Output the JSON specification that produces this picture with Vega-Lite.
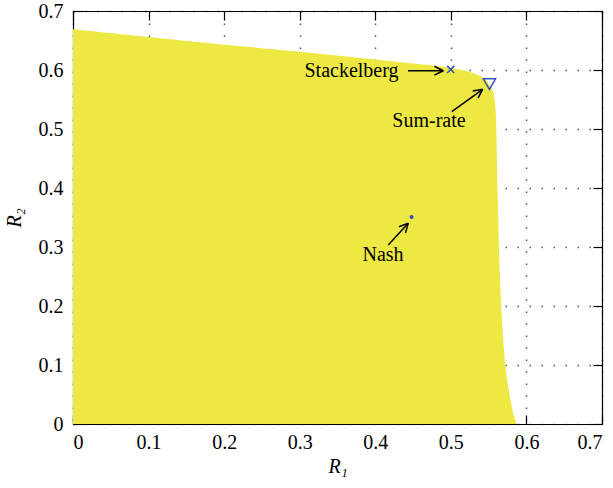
{
  "$schema": "https://vega.github.io/schema/vega-lite/v6.json",
  "width": 529,
  "height": 413,
  "autosize": "none",
  "padding": {"left": 73, "top": 11, "right": 11, "bottom": 64},
  "background": "white",
  "datasets": {
    "boundary": [
      {"r1": 0, "r2": 0.669},
      {"r1": 0.1, "r2": 0.656},
      {"r1": 0.2, "r2": 0.643},
      {"r1": 0.3, "r2": 0.631},
      {"r1": 0.4, "r2": 0.618},
      {"r1": 0.45, "r2": 0.611},
      {"r1": 0.48, "r2": 0.607},
      {"r1": 0.5, "r2": 0.6035},
      {"r1": 0.515, "r2": 0.6},
      {"r1": 0.53, "r2": 0.595},
      {"r1": 0.54, "r2": 0.589},
      {"r1": 0.548, "r2": 0.581},
      {"r1": 0.553, "r2": 0.572},
      {"r1": 0.5565, "r2": 0.561},
      {"r1": 0.5585, "r2": 0.545},
      {"r1": 0.5598, "r2": 0.52},
      {"r1": 0.5605, "r2": 0.48},
      {"r1": 0.561, "r2": 0.44},
      {"r1": 0.5625, "r2": 0.36},
      {"r1": 0.564, "r2": 0.28},
      {"r1": 0.5665, "r2": 0.2},
      {"r1": 0.5695, "r2": 0.14},
      {"r1": 0.572, "r2": 0.1},
      {"r1": 0.575, "r2": 0.07},
      {"r1": 0.579, "r2": 0.04},
      {"r1": 0.583, "r2": 0.015},
      {"r1": 0.587, "r2": 0}
    ],
    "arrows": [
      {"x": 0.4433, "y": 0.5988, "x2": 0.49, "y2": 0.5988},
      {"x": 0.4781, "y": 0.6064, "x2": 0.49, "y2": 0.5988},
      {"x": 0.4781, "y": 0.5912, "x2": 0.49, "y2": 0.5988},
      {"x": 0.5012, "y": 0.5293, "x2": 0.5421, "y2": 0.5673},
      {"x": 0.5359, "y": 0.5522, "x2": 0.5421, "y2": 0.5673},
      {"x": 0.529, "y": 0.5646, "x2": 0.5421, "y2": 0.5673},
      {"x": 0.4172, "y": 0.3034, "x2": 0.4436, "y2": 0.3402},
      {"x": 0.44, "y": 0.3239, "x2": 0.4436, "y2": 0.3402},
      {"x": 0.4313, "y": 0.3342, "x2": 0.4436, "y2": 0.3402}
    ],
    "points": [
      {"name": "Stackelberg", "r1": 0.4998, "r2": 0.601},
      {"name": "Sum-rate", "r1": 0.551, "r2": 0.576},
      {"name": "Nash", "r1": 0.448, "r2": 0.351}
    ],
    "labels": [
      {"text": "Stackelberg", "x": 0.3685, "y": 0.598},
      {"text": "Sum-rate", "x": 0.4711, "y": 0.5136},
      {"text": "Nash", "x": 0.4102, "y": 0.2864}
    ]
  },
  "layer": [
    {
      "data": {"name": "boundary"},
      "mark": {"type": "area", "color": "#EEE842", "opacity": 1},
      "encoding": {
        "x": {
          "field": "r1", "type": "quantitative",
          "scale": {"domain": [0, 0.7], "nice": false, "zero": false},
          "axis": {
            "orient": "bottom", "title": "R₁", "values": [0, 0.1, 0.2, 0.3, 0.4, 0.5, 0.6, 0.7],
            "format": ".1~f", "grid": true, "tickSize": -9, "labelPadding": 17
          }
        },
        "y": {
          "field": "r2", "type": "quantitative",
          "scale": {"domain": [0, 0.7], "nice": false, "zero": false},
          "axis": {
            "orient": "left", "title": "R₂", "values": [0, 0.1, 0.2, 0.3, 0.4, 0.5, 0.6, 0.7],
            "format": ".1~f", "grid": true, "tickSize": -9, "labelPadding": 19, "titlePadding": 14
          }
        }
      }
    },
    {
      "data": {"name": "arrows"},
      "mark": {"type": "rule", "color": "black", "strokeWidth": 1.5},
      "encoding": {
        "x": {
          "field": "x", "type": "quantitative",
          "axis": {
            "orient": "top", "title": null, "labels": false, "grid": false,
            "values": [0, 0.1, 0.2, 0.3, 0.4, 0.5, 0.6, 0.7], "tickSize": -9
          }
        },
        "y": {
          "field": "y", "type": "quantitative",
          "axis": {
            "orient": "right", "title": null, "labels": false, "grid": false,
            "values": [0, 0.1, 0.2, 0.3, 0.4, 0.5, 0.6, 0.7], "tickSize": -9
          }
        },
        "x2": {"field": "x2"},
        "y2": {"field": "y2"}
      }
    },
    {
      "data": {"name": "points"},
      "transform": [{"filter": "datum.name === 'Stackelberg'"}],
      "mark": {"type": "point", "shape": "M-1,-1L1,1M-1,1L1,-1", "size": 50, "filled": false, "stroke": "#3050C0", "strokeWidth": 1.5, "opacity": 1},
      "encoding": {
        "x": {"field": "r1", "type": "quantitative", "axis": null},
        "y": {"field": "r2", "type": "quantitative", "axis": null}
      }
    },
    {
      "data": {"name": "points"},
      "transform": [{"filter": "datum.name === 'Sum-rate'"}],
      "mark": {"type": "point", "shape": "triangle-down", "size": 150, "filled": false, "stroke": "#3050C0", "strokeWidth": 1.5, "opacity": 1},
      "encoding": {
        "x": {"field": "r1", "type": "quantitative", "axis": null},
        "y": {"field": "r2", "type": "quantitative", "axis": null}
      }
    },
    {
      "data": {"name": "points"},
      "transform": [{"filter": "datum.name === 'Nash'"}],
      "mark": {"type": "point", "shape": "circle", "size": 16, "filled": true, "fill": "#3050C0", "opacity": 1},
      "encoding": {
        "x": {"field": "r1", "type": "quantitative", "axis": null},
        "y": {"field": "r2", "type": "quantitative", "axis": null}
      }
    },
    {
      "data": {"name": "labels"},
      "mark": {"type": "text", "font": "Liberation Serif", "fontSize": 20, "baseline": "middle", "align": "center", "color": "black"},
      "encoding": {
        "x": {"field": "x", "type": "quantitative", "axis": null},
        "y": {"field": "y", "type": "quantitative", "axis": null},
        "text": {"field": "text"}
      }
    }
  ],
  "resolve": {"axis": {"x": "independent", "y": "independent"}},
  "config": {
    "view": {"stroke": null},
    "axis": {
      "domainColor": "black",
      "domainWidth": 1.2,
      "tickColor": "black",
      "tickWidth": 1.2,
      "gridColor": "#555555",
      "gridDash": [1.5, 10.5],
      "gridWidth": 1.5,
      "gridOpacity": 1,
      "labelFont": "Liberation Serif",
      "labelFontSize": 20,
      "labelColor": "black",
      "titleFont": "Liberation Serif",
      "titleFontSize": 20,
      "titleFontStyle": "italic",
      "titleFontWeight": "normal",
      "titleColor": "black",
      "zindex": 0
    }
  }
}
